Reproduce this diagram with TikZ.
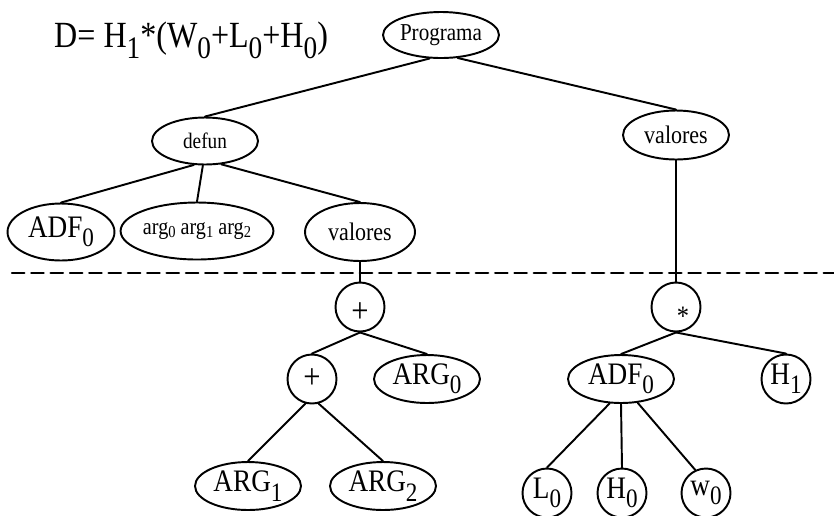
\documentclass[tikz,border=0pt]{standalone}
\usepackage{fontspec}
\setmainfont[FakeStretch=0.87]{Liberation Serif}
\usetikzlibrary{shapes.geometric}
% lowered subscripts as in the slide
\newcommand{\dn}[1]{\raisebox{-0.3em}{\scalebox{0.85}{#1}}}
\newcommand{\dnarg}[1]{\raisebox{-0.3ex}{\scalebox{0.72}{#1}}}
\tikzset{
  elnode/.style={draw, ellipse, line width=1.1pt, inner sep=0pt, minimum width=2.12cm, minimum height=0.96cm},
  cirnode/.style={draw, circle, line width=1.1pt, inner sep=0pt, minimum size=0.98cm},
  big/.style={font=\fontsize{17.8}{21}\selectfont},
  link/.style={line width=1.1pt},
  cutline/.style={line width=1.4pt, dash pattern=on 7pt off 4pt}
}
\begin{document}
\begin{tikzpicture}[x=0.02cm, y=-0.02cm, line join=round, line cap=round]
\useasboundingbox (0,0) rectangle (834,515);
% formula
\node[anchor=base west, font=\fontsize{21}{25}\selectfont] (formula) at (48,47) {D= H\dn{1}*(W\dn{0}+L\dn{0}+H\dn{0})};
% upper part
\node[elnode, minimum height=0.92cm, font=\fontsize{13.8}{16}\selectfont] (prog) at (441,35) {Programa};
\node[elnode, minimum height=0.94cm, font=\fontsize{12.6}{15}\selectfont] (defun) at (205,141) {defun};
\node[elnode, minimum height=0.98cm, font=\fontsize{14.4}{17}\selectfont] (valR) at (676,135) {valores};
\node[elnode, big, minimum width=2.14cm, minimum height=1.14cm] (adfL) at (61,232) {ADF\dn{0}};
\node[elnode, minimum width=3cm, minimum height=1.14cm, font=\fontsize{13.2}{16}\selectfont] (args) at (197,231) {arg\dnarg{0} arg\dnarg{1} arg\dnarg{2}};
\node[elnode, minimum width=2.2cm, minimum height=1.16cm, font=\fontsize{14.4}{17}\selectfont] (valL) at (360,232) {valores};
% dashed separation
\coordinate (cutL) at (12,273);
\coordinate (cutR) at (834,273);
\draw[cutline] (cutL) -- (cutR);
% left tree
\node[cirnode, font=\fontsize{20}{24}\selectfont] (plusA) at (360,307) {\raisebox{-0.45em}[0pt][0pt]{+}};
\node[cirnode, font=\fontsize{20}{24}\selectfont] (plusB) at (312,379) {+};
\node[elnode, big] (arg0) at (427,379) {ARG\dn{0}};
\node[elnode, big] (arg1) at (248,486) {ARG\dn{1}};
\node[elnode, big] (arg2) at (383,486) {ARG\dn{2}};
% right tree
\node[cirnode, font=\fontsize{16}{19}\selectfont] (star) at (676,307) {\hspace*{0.5em}\raisebox{-0.65em}[0pt][0pt]{*}};
\node[elnode, big] (adfR) at (621,379) {ADF\dn{0}};
\node[cirnode, big] (h1) at (786,379) {H\dn{1}};
\node[cirnode, big] (l0) at (547,493) {L\dn{0}};
\node[cirnode, big] (h0) at (622,493) {H\dn{0}};
\node[cirnode, big] (w0) at (706,493) {w\dn{0}};
% connectors
\draw[link] (prog.244) -- (defun.north);
\draw[link] (prog.-54) -- (valR.north);
\draw[link] (defun.245) -- (adfL.north);
\draw[link] (defun.265) -- (args.north);
\draw[link] (defun.-55) -- (valL.north);
\draw[link] (valL.south) -- (plusA.north);
\draw[link] (valR.south) -- (star.north);
\draw[link] (plusA.south) -- (plusB.north);
\draw[link] (plusA.south) -- (arg0.north);
\draw[link] (plusB.255) -- (arg1.north);
\draw[link] (plusB.285) -- (arg2.north);
\draw[link] (star.south) -- (adfR.north);
\draw[link] (star.south) -- (h1.north);
\draw[link] (adfR.245) -- (l0.north);
\draw[link] (adfR.south) -- (h0.north);
\draw[link] (adfR.-55) -- (w0.115);
\end{tikzpicture}
\end{document}
